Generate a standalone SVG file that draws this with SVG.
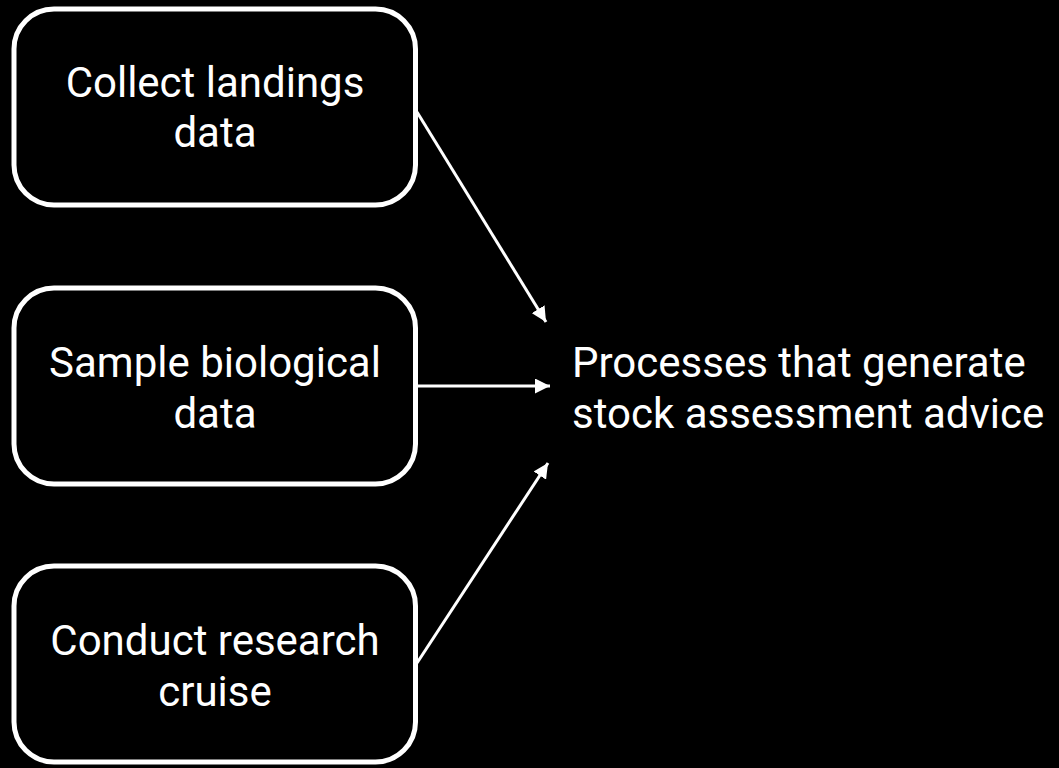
<svg xmlns="http://www.w3.org/2000/svg" width="1059" height="768" viewBox="0 0 1059 768">
<style>
.box{fill:#000;stroke:#fff;stroke-width:5}
.t{font-family:Roboto,"Liberation Sans",sans-serif;font-size:42px;fill:#fff}
.c{text-anchor:middle}
.ln{stroke:#fff;stroke-width:3;fill:none}
</style>
<defs>
<marker id="ah" viewBox="0 0 10 10" refX="10" refY="5" markerWidth="5" markerHeight="5" markerUnits="strokeWidth" orient="auto">
<path d="M0,0 L10,5 L0,10 z" fill="#fff"/>
</marker>
</defs>
<rect width="1059" height="768" fill="#000"/>
<g id="connectors">
<line class="ln" x1="417" y1="112" x2="546" y2="322" marker-end="url(#ah)"/>
<line class="ln" x1="418" y1="386" x2="550" y2="386" marker-end="url(#ah)"/>
<line class="ln" x1="417" y1="663" x2="548" y2="463" marker-end="url(#ah)"/>
</g>
<g id="n1">
<rect class="box" x="14" y="9" width="401.5" height="196" rx="40"/>
<text class="t c" x="215" y="97">Collect landings</text>
<text class="t c" x="215" y="147">data</text>
</g>
<g id="n2">
<rect class="box" x="14" y="288" width="401.5" height="196" rx="40"/>
<text class="t c" x="215" y="377">Sample biological</text>
<text class="t c" x="215" y="428">data</text>
</g>
<g id="n3">
<rect class="box" x="14" y="566" width="401.5" height="196" rx="40"/>
<text class="t c" x="215" y="655">Conduct research</text>
<text class="t c" x="215" y="706">cruise</text>
</g>
<g id="n4">
<text class="t" x="572" y="377">Processes that generate</text>
<text class="t" x="572" y="428">stock assessment advice</text>
</g>
</svg>
